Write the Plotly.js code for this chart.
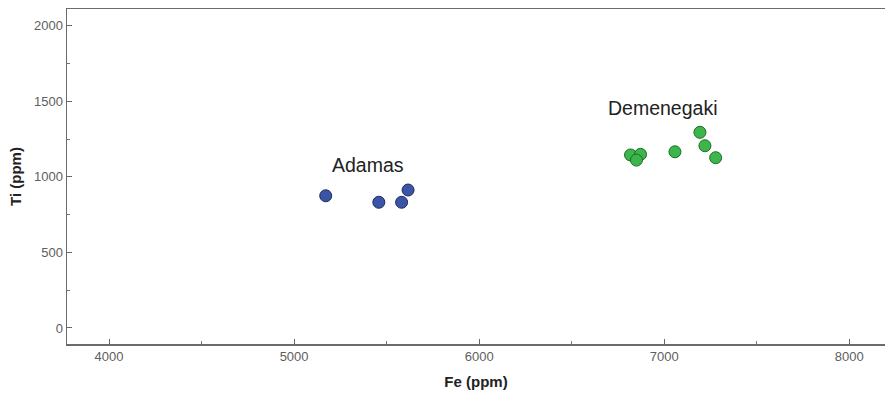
<!DOCTYPE html>
<html>
<head>
<meta charset="utf-8">
<script src="https://cdn.plot.ly/plotly-3.0.1.min.js"></script>
<style>html,body{margin:0;padding:0;background:#fff;}#chart{width:885px;height:397px;}</style>
</head>
<body>
<div id="chart"></div>
<script>
// Data
const adamasFe = [5171, 5458, 5581, 5616];
const adamasTi = [875, 832, 832, 913];
const demenegakiFe = [6818, 6872, 6850, 7058, 7193, 7220, 7278];
const demenegakiTi = [1145, 1149, 1111, 1166, 1295, 1206, 1127];
const groupLabels = ["Adamas", "Demenegaki"];
const labelFe = [5398, 6993];
const labelTi = [1078, 1455];
const xTicks = [4000, 5000, 6000, 7000, 8000];
const yTicks = [0, 500, 1000, 1500, 2000];

const traces = [
  {x: demenegakiFe, y: demenegakiTi, mode: 'markers', type: 'scatter', name: 'Demenegaki',
   marker: {size: 12, color: '#3cb54a', line: {color: '#1e6b2a', width: 1}}},
  {x: adamasFe, y: adamasTi, mode: 'markers', type: 'scatter', name: 'Adamas',
   marker: {size: 12, color: '#3a55a8', line: {color: '#1d2a5c', width: 1}}}
];

const layout = {
  width: 885, height: 397,
  margin: {l: 67, r: 0, t: 9, b: 53},
  paper_bgcolor: '#ffffff', plot_bgcolor: '#ffffff',
  showlegend: false,
  font: {family: 'Arial, Liberation Sans, sans-serif', color: '#5e5e5e'},
  xaxis: {
    range: [3773, 8193], tickvals: xTicks, ticktext: xTicks.map(String),
    ticks: 'inside', ticklen: 5, tickcolor: '#666666', tickwidth: 1,
    minor: {dtick: 500, tick0: 4000, ticks: 'inside', ticklen: 3, tickcolor: '#777777'},
    showgrid: false, zeroline: false,
    showline: true, linecolor: '#6b6b6b', linewidth: 1.5, mirror: true,
    tickfont: {size: 13, color: '#5e5e5e'},
    title: {text: '<b>Fe (ppm)</b>', font: {size: 15, color: '#222222'}, standoff: 13}
  },
  yaxis: {
    range: [-106, 2111], tickvals: yTicks, ticktext: yTicks.map(String),
    ticks: 'inside', ticklen: 5, tickcolor: '#666666', tickwidth: 1,
    minor: {dtick: 250, tick0: 0, ticks: 'inside', ticklen: 3, tickcolor: '#777777'},
    showgrid: false, zeroline: false,
    showline: true, linecolor: '#6b6b6b', linewidth: 1.5,
    tickfont: {size: 13, color: '#5e5e5e'},
    title: {text: '<b>Ti (ppm)</b>', font: {size: 15, color: '#222222'}, standoff: 8}
  },
  annotations: groupLabels.map((t, i) => ({
    x: labelFe[i], y: labelTi[i], xref: 'x', yref: 'y', text: t,
    showarrow: false, font: {size: 19.5, color: '#222222'}
  }))
};

Plotly.newPlot('chart', traces, layout, {displayModeBar: false, staticPlot: true});
</script>
</body>
</html>
